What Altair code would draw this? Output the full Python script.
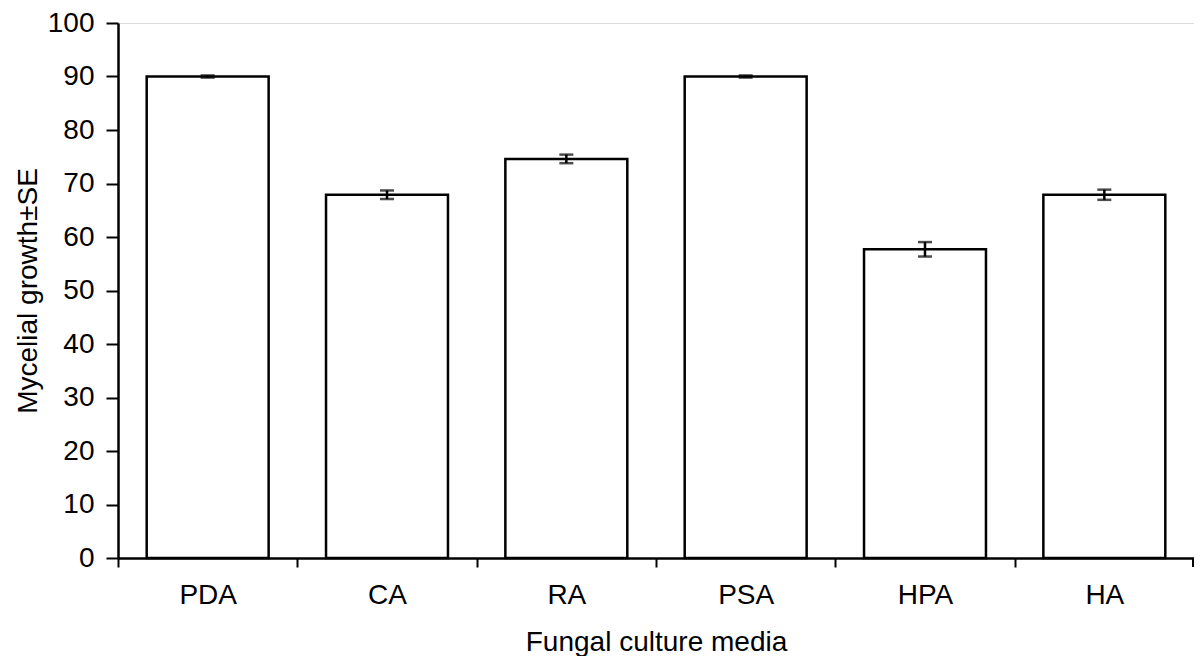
import altair as alt
import pandas as pd

media = ["PDA", "CA", "RA", "PSA", "HPA", "HA"]
growth = [90.0, 67.9, 74.6, 90.0, 57.7, 67.9]
se = [0.2, 0.8, 0.8, 0.2, 1.35, 0.95]

df = pd.DataFrame({"media": media, "growth": growth, "se": se})
df["lo"] = df["growth"] - df["se"]
df["hi"] = df["growth"] + df["se"]

W, H = 1076, 535
FONT = "Liberation Sans"
FS = 28
step = W / len(media)

xscale = alt.Scale(domain=media, paddingInner=0.32, paddingOuter=0.16)
yscale = alt.Scale(domain=[0, 100])

xaxis = alt.Axis(
    title="Fungal culture media", labelAngle=0,
    tickOffset=-step / 2, labelOffset=step / 2,
    tickSize=9, tickWidth=2, tickColor="black", domainColor="black", domainWidth=2.5,
    labelFontSize=FS, labelFont=FONT, labelColor="black", labelPadding=14,
    titleFontSize=FS, titleFont=FONT, titleColor="black", titleFontWeight="normal",
    titlePadding=19,
)
yaxis = alt.Axis(
    title="Mycelial growth±SE", values=list(range(0, 101, 10)), grid=False,
    tickSize=12, tickWidth=2, tickColor="black", domainColor="black", domainWidth=2.5,
    labelFontSize=FS, labelFont=FONT, labelColor="black", labelPadding=12,
    titleFontSize=FS, titleFont=FONT, titleColor="black", titleFontWeight="normal",
    titlePadding=5,
)

base = alt.Chart(df)

bars = base.mark_bar(fill="white", stroke="black", strokeWidth=2.5).encode(
    x=alt.X("media:N", sort=media, scale=xscale, axis=xaxis),
    y=alt.Y("growth:Q", scale=yscale, axis=yaxis),
)

err = base.mark_rule(color="black", strokeWidth=2.5).encode(
    x=alt.X("media:N", sort=media, scale=xscale),
    y=alt.Y("lo:Q", scale=yscale),
    y2="hi:Q",
)
cap_lo = base.mark_tick(color="black", thickness=2.5, size=14, orient="horizontal").encode(
    x=alt.X("media:N", sort=media, scale=xscale),
    y=alt.Y("lo:Q", scale=yscale),
)
cap_hi = base.mark_tick(color="black", thickness=2.5, size=14, orient="horizontal").encode(
    x=alt.X("media:N", sort=media, scale=xscale),
    y=alt.Y("hi:Q", scale=yscale),
)
end_tick = alt.Chart(pd.DataFrame({"k": [0]})).mark_rule(color="black", strokeWidth=2).encode(
    x=alt.value(W - 1), y=alt.value(H), y2=alt.value(H + 9)
)

chart = alt.layer(bars, err, cap_lo, cap_hi, end_tick).properties(
    width=W, height=H,
    autosize=alt.AutoSizeParams(type="none"),
    padding={"left": 110, "top": 15, "right": 0, "bottom": 98},
).configure_view(stroke=None).configure(background="white")

chart.save("out.html", embed_options={"renderer": "svg", "actions": False})
